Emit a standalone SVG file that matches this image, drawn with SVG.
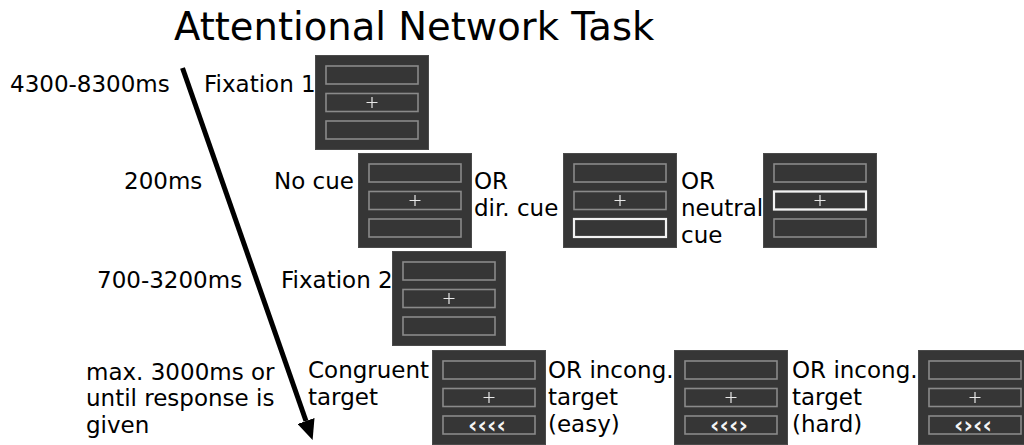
<svg xmlns="http://www.w3.org/2000/svg" xmlns:xlink="http://www.w3.org/1999/xlink" width="1024" height="445" viewBox="0 0 1024 445">
<style>
text{font-family:"DejaVu Sans","Liberation Sans",sans-serif;fill:#000}
.lbl{font-size:23px}
.title{font-size:38.5px}
.bg{fill:#363636;stroke:#4a4a4a;stroke-width:1}
.slot{fill:none;stroke:#8a8a8a;stroke-width:1.6}
.hi{fill:none;stroke:#f2f2f2;stroke-width:2.2}
.cross{stroke:#e8e8e8;stroke-width:1.2}
.arr{font-size:23px;fill:#f4f4f4;font-weight:bold;text-anchor:middle}
</style>
<defs>
<g id="panel">
<rect class="bg" x="0.5" y="0.5" width="113" height="94"/>
<rect class="slot" x="11" y="11" width="92" height="18"/>
<rect class="slot" x="11" y="38.5" width="92" height="18"/>
<rect class="slot" x="11" y="66" width="92" height="18"/>
<path class="cross" d="M51.5 47.5h11M57 42v11"/>
</g>
<marker id="ah" markerWidth="4" markerHeight="3.6" refX="0" refY="1.8" orient="auto" markerUnits="strokeWidth">
<path d="M0 0L4 1.8L0 3.6z" fill="#000"/>
</marker>
</defs>
<text class="title" x="174" y="40">Attentional Network Task</text>

<g id="connectors">
<path d="M182.5 68L306 421" stroke="#000" stroke-width="5" fill="none" marker-end="url(#ah)"/>
</g>

<g id="times">
<text class="lbl" x="10" y="92">4300-8300ms</text>
<text class="lbl" x="124" y="189">200ms</text>
<text class="lbl" x="97" y="288">700-3200ms</text>
<text class="lbl" x="86" y="380">max. 3000ms or</text>
<text class="lbl" x="86" y="406">until response is</text>
<text class="lbl" x="86" y="433">given</text>
</g>

<g id="fixation1">
<text class="lbl" x="204" y="92">Fixation 1</text>
<use xlink:href="#panel" x="315" y="55"/>
</g>

<g id="nocue">
<text class="lbl" x="274" y="189">No cue</text>
<use xlink:href="#panel" x="358" y="153"/>
</g>

<g id="dircue">
<text class="lbl" x="474" y="189">OR</text>
<text class="lbl" x="474" y="216">dir. cue</text>
<use xlink:href="#panel" x="563" y="153"/>
<rect class="hi" x="574" y="219" width="92" height="18"/>
</g>

<g id="neutralcue">
<text class="lbl" x="681" y="189">OR</text>
<text class="lbl" x="681" y="216">neutral</text>
<text class="lbl" x="681" y="243">cue</text>
<use xlink:href="#panel" x="763" y="153"/>
<rect class="hi" x="774" y="191.5" width="92" height="18"/>
</g>

<g id="fixation2">
<text class="lbl" x="281" y="288">Fixation 2</text>
<use xlink:href="#panel" x="392" y="251"/>
</g>

<g id="congruent">
<text class="lbl" x="308" y="378">Congruent</text>
<text class="lbl" x="308" y="405">target</text>
<use xlink:href="#panel" x="432" y="350"/>
<text class="arr" x="487" y="433">‹‹‹‹</text>
</g>

<g id="incong-easy">
<text class="lbl" x="548" y="378">OR incong.</text>
<text class="lbl" x="548" y="405">target</text>
<text class="lbl" x="548" y="432">(easy)</text>
<use xlink:href="#panel" x="674" y="350"/>
<text class="arr" x="729" y="433">‹‹‹›</text>
</g>

<g id="incong-hard">
<text class="lbl" x="792" y="378">OR incong.</text>
<text class="lbl" x="792" y="405">target</text>
<text class="lbl" x="792" y="432">(hard)</text>
<use xlink:href="#panel" x="918" y="350"/>
<text class="arr" x="973" y="433">‹›‹‹</text>
</g>
</svg>
